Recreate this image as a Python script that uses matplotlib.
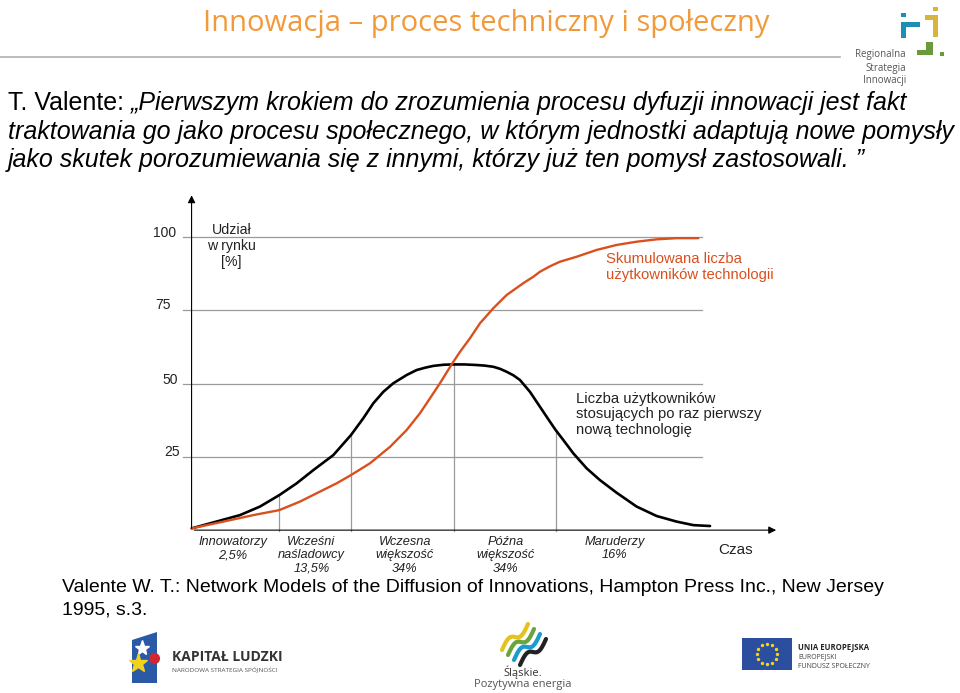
import numpy as np
import matplotlib
matplotlib.use("Agg")
from matplotlib import pyplot as plt
from matplotlib.patches import Rectangle, Polygon

# data: time in std-dev units, share in %
bell_x = [-2.559, -2.088, -1.893, -1.704, -1.535, -1.372, -1.177, -1.005, -0.885, -0.787,
          -0.689, -0.592, -0.462, -0.364, -0.28, -0.202, -0.10, 0.0, 0.10, 0.221,
          0.30, 0.384, 0.450, 0.514, 0.580, 0.644, 0.741, 0.839, 0.937, 0.992,
          1.067, 1.164, 1.294, 1.424, 1.587, 1.782, 1.977, 2.172, 2.335, 2.498]
bell_y = [0.9, 5.4, 8.3, 12.2, 16.2, 20.7, 25.8, 32.6, 38.3, 43.4,
          47.3, 50.2, 53.0, 54.7, 55.5, 56.1, 56.5, 56.6, 56.6, 56.4,
          56.2, 55.8, 55.1, 54.1, 52.9, 51.3, 47.3, 42.2, 37.1, 34.3,
          30.9, 26.4, 21.3, 17.3, 13.0, 8.3, 5.1, 3.2, 2.0, 1.7]
cum_x = [-2.559, -2.250, -1.958, -1.704, -1.502, -1.307, -1.145, -1.005, -0.820, -0.624,
         -0.462, -0.332, -0.234, -0.137, -0.023, 0.059, 0.156, 0.254, 0.384, 0.514,
         0.676, 0.774, 0.839, 0.94, 1.034, 1.197, 1.392, 1.587, 1.782, 1.977,
         2.172, 2.384]
cum_y = [0.9, 3.2, 5.4, 7.1, 10.0, 13.4, 16.2, 19.0, 23.0, 28.6,
         34.3, 40.0, 45.1, 50.2, 56.6, 60.9, 65.5, 70.6, 75.7, 80.2,
         84.2, 86.4, 88.1, 90.0, 91.5, 93.2, 95.5, 97.2, 98.3, 99.1,
         99.5, 99.5]

divider_x = [-1.704, -1.005, 0.0, 0.992]
divider_top = [12.2, 32.6, 56.6, 34.3]
grid_vals = [25, 50, 75, 100]
grid_labels = ["25", "50", "75", "100"]
grid_label_x = [-2.75, -2.77, -2.84, -2.82]
grid_label_dy = [1.8, 1.3, 1.8, 1.3]

cat_names = ["Innowatorzy\n2,5%", "Wcześni\nnaśladowcy\n13,5%", "Wczesna\nwiększość\n34%",
             "Późna\nwiększość\n34%", "Maruderzy\n16%"]
cat_x = [-2.16, -1.39, -0.48, 0.50, 1.57]

ORANGE = "#d9501e"
TITLE = "#f29a3a"
GRID = "#9a9a9a"

fig = plt.figure(figsize=(9.6, 6.93), dpi=100)
fig.patch.set_facecolor("white")

# full-figure pixel canvas for slide decoration
bg = fig.add_axes([0, 0, 1, 1], zorder=0)
bg.set_xlim(0, 960)
bg.set_ylim(693, 0)
bg.axis("off")

bg.text(486, 24, "Innowacja – proces techniczny i społeczny", color=TITLE,
        fontsize=21, family="Open Sans", ha="center", va="center")
bg.plot([0, 840], [57, 57], color="#b0b0b0", lw=1.2)

# Regionalna Strategia Innowacji logo
blue, yellow, green = "#1c8fb3", "#d7b43a", "#6b9a3a"
for (x0, y0, w, h, c) in [(901, 13, 5, 4, blue), (901, 22, 5, 16, blue), (901, 22, 19, 5, blue),
                          (933, 7, 5, 4, yellow), (925, 15, 13, 5, yellow), (933, 15, 5, 22, yellow),
                          (917, 50, 16, 5, green), (926, 42, 7, 13, green), (940, 52, 4, 4, green)]:
    bg.add_patch(Rectangle((x0, y0), w, h, color=c, lw=0))
for yy, t in zip([55, 68, 81], ["Regionalna", "Strategia", "Innowacji"]):
    bg.text(906, yy, t, fontsize=7, color="#555555", ha="right", va="center", family="Open Sans")

# quote
fs_q = 18.0
t0 = bg.text(8, 103, "T. Valente: ", fontsize=fs_q, family="Liberation Sans", va="center")
fig.canvas.draw()
r = fig.canvas.get_renderer()
bb = t0.get_window_extent(renderer=r)
bg.text(8 + bb.width, 103, "„Pierwszym krokiem do zrozumienia procesu dyfuzji innowacji jest fakt",
        fontsize=fs_q, family="Liberation Sans", style="italic", va="center")
bg.text(8, 132, "traktowania go jako procesu społecznego, w którym jednostki adaptują nowe pomysły",
        fontsize=fs_q, family="Liberation Sans", style="italic", va="center")
bg.text(8, 160, "jako skutek porozumiewania się z innymi, którzy już ten pomysł zastosowali. ”",
        fontsize=fs_q, family="Liberation Sans", style="italic", va="center")

# source
bg.text(62, 587, "Valente W. T.: Network Models of the Diffusion of Innovations, Hampton Press Inc., New Jersey",
        fontsize=14, family="Liberation Sans", va="center")
bg.text(62, 610, "1995, s.3.", fontsize=14, family="Liberation Sans", va="center")

# Kapitał Ludzki logo
bg.add_patch(Polygon([[132, 640], [157, 632], [157, 683], [132, 683]], color="#2a5aa6", lw=0))
bg.plot([142], [648], marker="*", color="white", ms=11)
bg.plot([138], [663], marker="*", color="#f2d21b", ms=14)
bg.plot([154], [658], marker="o", color="#d32630", ms=7)
bg.text(172, 657, "KAPITAŁ LUDZKI", fontsize=10, weight="bold", color="#333333", va="center", family="Open Sans")
bg.text(172, 669, "NARODOWA STRATEGIA SPÓJNOŚCI", fontsize=4.6, color="#555555", va="center", family="Open Sans")

# Śląskie logo
ts = np.linspace(0, 1, 40)
for k, c in enumerate(["#e6c21e", "#6aa53a", "#1d9bd1", "#222222"]):
    xs = 502 + k * 6 + 26 * ts
    ys = 624 + k * 5 + 26 * (1 - ts) - 5 * np.sin(ts * 2 * np.pi)
    bg.plot(xs, ys, color=c, lw=3, solid_capstyle="round")
bg.text(523, 672, "Śląskie.", fontsize=8, ha="center", va="center", family="Open Sans", color="#333333")
bg.text(523, 684, "Pozytywna energia", fontsize=8, ha="center", va="center", family="Open Sans", color="#555555")

# EU logo
bg.add_patch(Rectangle((742, 638), 50, 32, color="#2b4f9e", lw=0))
ang = np.arange(12) * np.pi / 6
bg.scatter(767 + 10 * np.cos(ang), 654 + 10 * np.sin(ang), s=2, color="#f5d31a", zorder=5)
bg.text(798, 648, "UNIA EUROPEJSKA", fontsize=5.6, weight="bold", va="center", family="Open Sans", color="#222222")
bg.text(798, 657, "EUROPEJSKI", fontsize=5, va="center", family="Open Sans", color="#444444")
bg.text(798, 666, "FUNDUSZ SPOŁECZNY", fontsize=5, va="center", family="Open Sans", color="#444444")

# chart axes
ax = fig.add_axes([0.17927, 0.22525, 0.63531, 0.50115], zorder=1)
ax.patch.set_alpha(0)
ax.set_xlim(-2.75, 3.2)
ax.set_ylim(-2, 116)
ax.axis("off")

for g in grid_vals:
    ax.plot([-2.64, 2.42], [g, g], color=GRID, lw=0.9)
for xv, top in zip(divider_x, divider_top):
    ax.plot([xv, xv], [0, top], color=GRID, lw=0.9)

ax.plot(bell_x, bell_y, color="black", lw=1.9, solid_capstyle="round", solid_joinstyle="round")
ax.plot(cum_x, cum_y, color=ORANGE, lw=1.7, solid_capstyle="round", solid_joinstyle="round")

ax.annotate("", xy=(-2.56, 115), xytext=(-2.56, 0),
            arrowprops=dict(arrowstyle="-|>", color="black", lw=0.8, mutation_scale=11))
ax.annotate("", xy=(3.17, 0.3), xytext=(-2.56, 0.3),
            arrowprops=dict(arrowstyle="-|>", color="black", lw=0.8, mutation_scale=11))

for lab, xv, yv, dy in zip(grid_labels, grid_label_x, grid_vals, grid_label_dy):
    ax.text(xv, yv + dy, lab, fontsize=10, ha="center", va="center", family="Liberation Sans", color="#222222")

ax.text(-2.17, 96.8, "Udział\nw rynku\n[%]", fontsize=10.2, ha="center", va="center",
        family="Liberation Sans", linespacing=1.2, color="#222222")
ax.text(1.48, 89.7, "Skumulowana liczba\nużytkowników technologii", fontsize=10.7, ha="left", va="center",
        family="Liberation Sans", color=ORANGE, linespacing=1.15)
ax.text(1.19, 39.6, "Liczba użytkowników\nstosujących po raz pierwszy\nnową technologię", fontsize=10.7,
        ha="left", va="center", family="Liberation Sans", color="#222222", linespacing=1.15)

for lab, xv in zip(cat_names, cat_x):
    ax.text(xv, -1.6, lab, fontsize=9.2, style="italic", ha="center", va="top",
            family="Liberation Sans", linespacing=1.17, color="#222222")
ax.text(2.75, -6.5, "Czas", fontsize=11, ha="center", va="center", family="Liberation Sans", color="#222222")

fig.savefig("out.png", dpi=100)
